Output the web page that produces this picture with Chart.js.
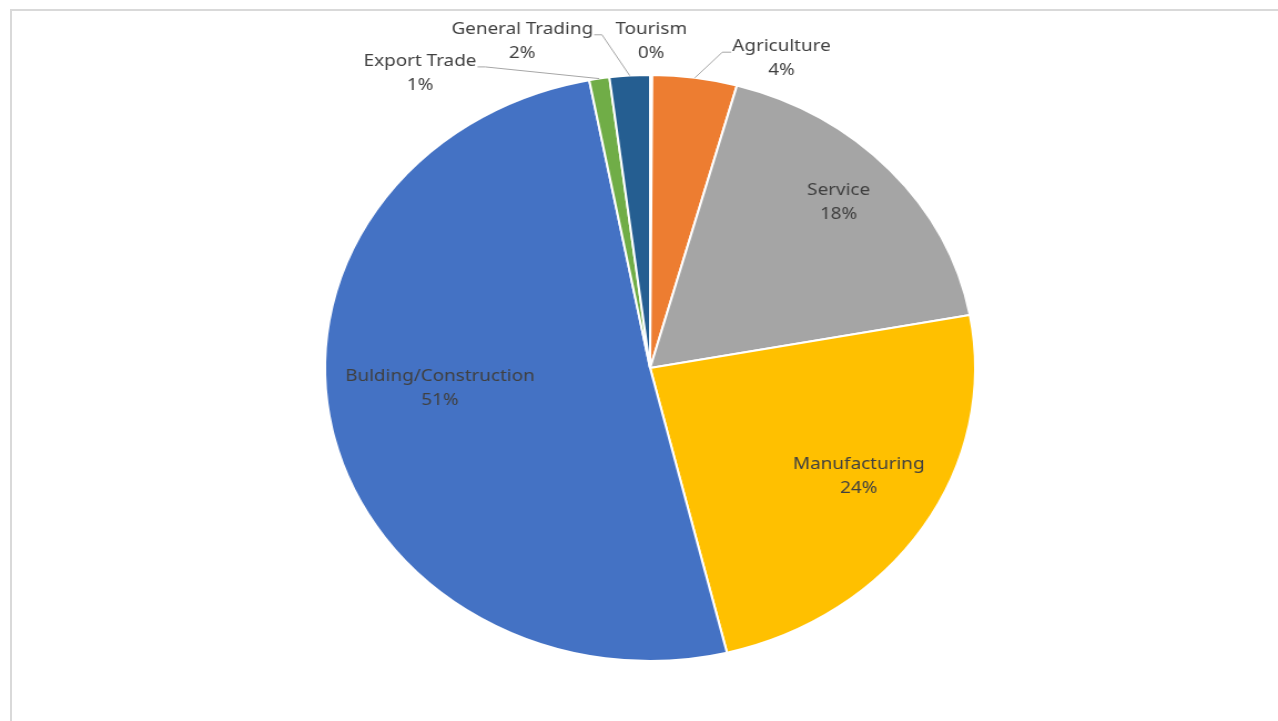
<!DOCTYPE html>
<html>
<head>
<meta charset="utf-8">
<script src="https://cdn.jsdelivr.net/npm/chart.js@4/dist/chart.umd.min.js"></script>
<style>
  html, body { margin: 0; padding: 0; background: #ffffff; overflow: hidden; }
  #frame { position: absolute; left: 10px; top: 9px; width: 1400px; height: 800px;
           border-top: 2px solid #d9d9d9; border-left: 2px solid #d9d9d9; }
  #wrap { position: absolute; left: 0; top: 0; width: 1152px; height: 721px;
          transform: scaleX(1.1094); transform-origin: 0 0; }
</style>
</head>
<body>
<div id="frame"></div>
<div id="wrap"><canvas id="c" width="1152" height="721"></canvas></div>
<script>
// ---- data ----
const categories = ['Tourism', 'Agriculture', 'Service', 'Manufacturing', 'Bulding/Construction', 'Export Trade', 'General Trading'];
const shares = [0.1, 4.2, 17.8, 24.1, 50.8, 1.0, 2.0];
const sliceColors = ['#5B9BD5', '#ED7D31', '#A5A5A5', '#FFC000', '#4472C4', '#70AD47', '#255E91'];

// ---- label styling (angle offset from slice middle in degrees, radius as fraction of pie radius) ----
const labelStyle = [
  { dAng: 0,     r: 1.115, leader: false },
  { dAng: 13,    r: 1.132, leader: true, side: 'right' },
  { dAng: -1.8,  r: 0.81,  leader: false },
  { dAng: -3.1,  r: 0.74,  leader: false },
  { dAng: 6.2,   r: 0.65,  leader: false },
  { dAng: -26.1, r: 1.231, leader: true, side: 'left' },
  { dAng: -15.8, r: 1.184, leader: true, side: 'left' }
];

const labelPlugin = {
  id: 'pieLabels',
  afterDraw(chart) {
    const ctx = chart.ctx;
    const meta = chart.getDatasetMeta(0);
    const data = chart.data.datasets[0].data;
    const total = data.reduce((a, b) => a + b, 0);
    const font = '17px "Noto Sans", "Open Sans", sans-serif';
    const lineGap = 24;
    ctx.save();
    ctx.font = font;
    ctx.textAlign = 'center';
    ctx.textBaseline = 'middle';
    meta.data.forEach((arc, i) => {
      const p = arc.getProps(['x', 'y', 'startAngle', 'endAngle', 'outerRadius'], true);
      const mid = (p.startAngle + p.endAngle) / 2;
      const st = labelStyle[i];
      const a = mid + st.dAng * Math.PI / 180;
      const cx = p.x + Math.cos(a) * p.outerRadius * st.r;
      const cy = p.y + Math.sin(a) * p.outerRadius * st.r;
      const line1 = chart.data.labels[i];
      const line2 = Math.round(data[i] / total * 100) + '%';
      const y1 = cy - lineGap / 2;
      const y2 = cy + lineGap / 2;
      if (st.leader) {
        const w = ctx.measureText(line1).width;
        const sx = p.x + Math.cos(mid) * p.outerRadius;
        const sy = p.y + Math.sin(mid) * p.outerRadius;
        const ly = y1 + 6;
        let ex, kx;
        if (st.side === 'right') { ex = cx - w / 2 - 1; kx = ex - 8; }
        else { ex = cx + w / 2 + 1; kx = ex + 7; }
        ctx.beginPath();
        ctx.strokeStyle = '#a6a6a6';
        ctx.lineWidth = 1;
        ctx.moveTo(sx, sy);
        ctx.lineTo(kx, ly);
        ctx.lineTo(ex, ly);
        ctx.stroke();
      }
      ctx.fillStyle = '#404040';
      ctx.fillText(line1, cx, y1);
      ctx.fillText(line2, cx, y2);
    });
    ctx.restore();
  }
};

new Chart(document.getElementById('c'), {
  type: 'pie',
  data: {
    labels: categories,
    datasets: [{
      data: shares,
      backgroundColor: sliceColors,
      borderColor: '#ffffff',
      borderWidth: 2,
      hoverOffset: 0
    }]
  },
  options: {
    responsive: false,
    animation: false,
    devicePixelRatio: 1,
    layout: { padding: { left: 20, right: 0, top: 74, bottom: 59 } },
    plugins: { legend: { display: false }, tooltip: { enabled: false } }
  },
  plugins: [labelPlugin]
});
</script>
</body>
</html>
